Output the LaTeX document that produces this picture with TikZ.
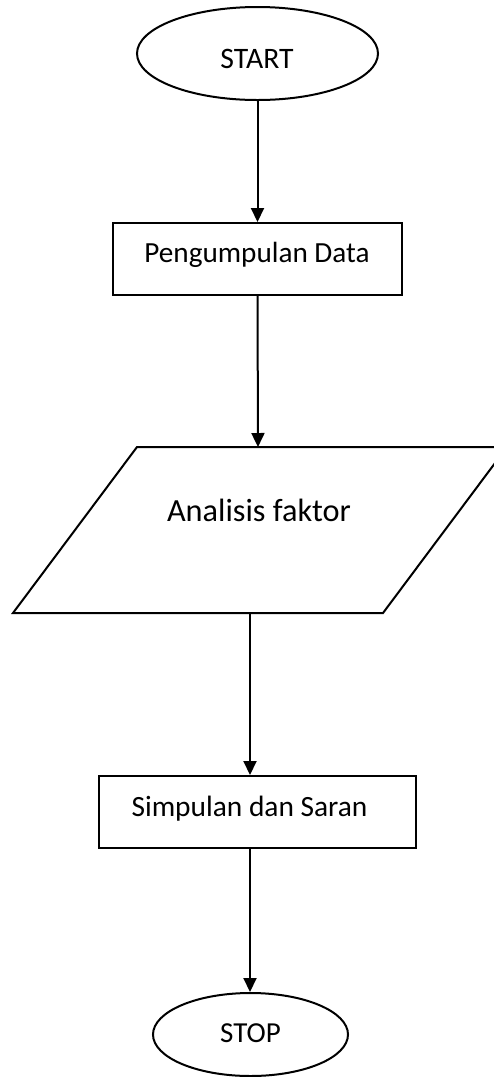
\documentclass[tikz,border=0pt]{standalone}
\usepackage{fontspec}
\setmainfont{Carlito}
\usetikzlibrary{shapes.geometric,arrows.meta}

\tikzset{
  outline/.style={draw=black, line width=2pt, fill=white, inner sep=0pt},
  terminal/.style={outline, ellipse},
  process/.style={outline, rectangle},
  label/.style={anchor=base, inner sep=0pt, text=black},
  flow/.style={line width=2pt, -{Triangle[width=13pt,length=14pt]}}
}

\begin{document}
\begin{tikzpicture}[x=1pt, y=-1pt]
  % page frame
  \clip (0,0) rectangle (494,1077);
  \useasboundingbox (0,0) rectangle (494,1077);
  \fill[white] (0,0) rectangle (494,1077);

  % start terminal
  \node[terminal, minimum width=241pt, minimum height=93pt] (start) at (257.5,53.5) {};
  \node[label, font=\fontsize{29.7}{35}\selectfont] (starttxt) at (257,68) {START};

  % data collection
  \node[process, minimum width=289pt, minimum height=72pt] (collect) at (257.5,259) {};
  \node[label, font=\fontsize{29.2}{35}\selectfont] (collecttxt) at (257,262) {Pengumpulan Data};

  % input/output parallelogram
  \draw[line width=2pt, fill=white, line join=miter]
    (137,447) -- (507,447) -- (383,613) -- (13,613) -- cycle;
  \coordinate (analysisTop) at (258,447);
  \coordinate (analysisBot) at (250,613);
  \node[label, font=\fontsize{32.3}{38}\selectfont] (analysistxt) at (259,521) {Analisis faktor};

  % conclusions
  \node[process, minimum width=317pt, minimum height=72pt] (conclude) at (257.5,812) {};
  \node[label, font=\fontsize{29.4}{35}\selectfont] (concludetxt) at (249.5,816) {Simpulan dan Saran};

  % stop terminal
  \node[terminal, minimum width=195pt, minimum height=83pt] (stop) at (250.5,1034.5) {};
  \node[label, font=\fontsize{29}{35}\selectfont] (stoptxt) at (250.5,1042) {STOP};

  % connectors
  \draw[flow] (start.south) -- (collect.north);
  \draw[flow] (collect.south) -- (analysisTop);
  \draw[flow] (analysisBot) -- (conclude.north -| analysisBot);
  \draw[flow] (conclude.south -| analysisBot) -- (stop.north -| analysisBot);
\end{tikzpicture}
\end{document}
